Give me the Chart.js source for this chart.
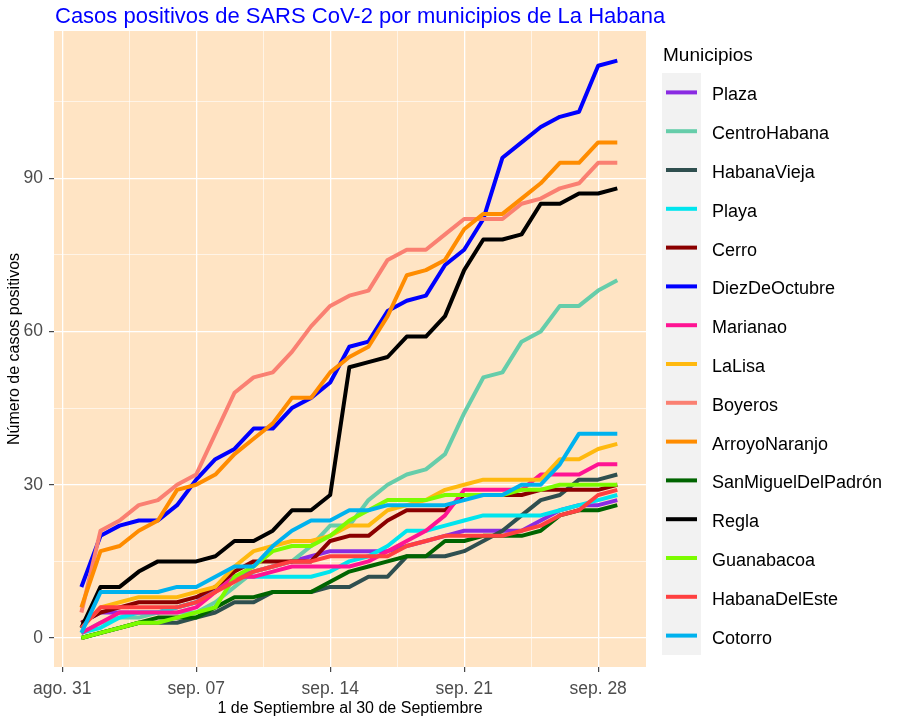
<!DOCTYPE html>
<html>
<head>
<meta charset="utf-8">
<script src="https://cdn.jsdelivr.net/npm/chart.js@4.4.1/dist/chart.umd.min.js"></script>
<style>
html,body{margin:0;padding:0;background:#ffffff;}
#wrap{width:900px;height:720px;position:relative;}
</style>
</head>
<body>
<div id="wrap"><canvas id="c" width="900" height="720"></canvas></div>
<script>
// ---- data (days of September) ----
const days = [1,2,3,4,5,6,7,8,9,10,11,12,13,14,15,16,17,18,19,20,21,22,23,24,25,26,27,28,29];

const Plaza             = [3,5,5,5,5,6,7,10,12,13,14,15,16,17,17,17,17,18,19,20,21,21,21,21,23,25,26,26,27];
const CentroHabana      = [1,3,4,4,5,5,5,7,10,13,14,15,18,22,22,27,30,32,33,36,44,51,52,58,60,65,65,68,70];
const HabanaVieja       = [0,1,2,3,3,3,4,5,7,7,9,9,9,10,10,12,12,16,16,16,17,19,21,24,27,28,31,31,32];
const Playa             = [1,2,4,5,5,6,7,9,12,12,12,12,12,13,15,16,18,21,21,22,23,24,24,24,24,25,26,27,28];
const Cerro             = [3,5,6,7,7,7,8,10,13,15,15,15,15,19,20,20,23,25,25,25,28,28,28,28,29,29,29,29,30];
const DiezDeOctubre     = [10,20,22,23,23,26,31,35,37,41,41,45,47,50,57,58,64,66,67,73,76,82,94,97,100,102,103,112,113];
const Marianao          = [1,3,5,5,5,5,6,9,12,12,13,14,14,14,14,15,17,19,21,24,29,29,29,29,32,32,32,34,34];
const LaLisa            = [2,6,7,8,8,8,9,10,14,17,18,19,19,20,22,22,25,26,27,29,30,31,31,31,31,35,35,37,38];
const Boyeros           = [5,21,23,26,27,30,32,40,48,51,52,56,61,65,67,68,74,76,76,79,82,82,82,85,86,88,89,93,93];
const ArroyoNaranjo     = [6,17,18,21,23,29,30,32,36,39,42,47,47,52,55,57,63,71,72,74,80,83,83,86,89,93,93,97,97];
const SanMiguelDelPadron= [0,1,2,3,4,4,4,6,8,8,9,9,9,11,13,14,15,16,16,19,19,20,20,20,21,24,25,25,26];
const Regla             = [2,10,10,13,15,15,15,16,19,19,21,25,25,28,53,54,55,59,59,63,72,78,78,79,85,85,87,87,88];
const Guanabacoa        = [0,1,2,3,3,4,5,6,12,14,17,18,18,20,23,25,27,27,27,28,28,28,28,29,29,30,30,30,30];
const HabanaDelEste     = [2,6,6,6,6,6,7,9,11,13,14,15,15,16,16,16,16,18,19,20,20,20,20,21,22,24,25,28,29];
const Cotorro           = [1,9,9,9,9,10,10,12,14,14,18,21,23,23,25,25,26,26,26,26,27,28,28,30,30,34,40,40,40];

const seriesNames  = ["Plaza","CentroHabana","HabanaVieja","Playa","Cerro","DiezDeOctubre","Marianao","LaLisa","Boyeros","ArroyoNaranjo","SanMiguelDelPadrón","Regla","Guanabacoa","HabanaDelEste","Cotorro"];
const seriesValues = [Plaza,CentroHabana,HabanaVieja,Playa,Cerro,DiezDeOctubre,Marianao,LaLisa,Boyeros,ArroyoNaranjo,SanMiguelDelPadron,Regla,Guanabacoa,HabanaDelEste,Cotorro];
const seriesColors = ["#8A2BE2","#66CDAA","#2F4F4F","#00E5EE","#8B0000","#0000FF","#FF1493","#FFB90F","#FA8072","#FF8C00","#006400","#000000","#7CFC00","#FF4040","#00B2EE"];

// tick labels (x: days offset from Sept 0 = Aug 31)
const xTickDays   = [0,7,14,21,28];
const xTickLabels = ["ago. 31","sep. 07","sep. 14","sep. 21","sep. 28"];
const xMinorDays  = [3.5,10.5,17.5,24.5];
const yTicks      = [0,30,60,90];
const yMinor      = [15,45,75,105];

const FAM = "'Liberation Sans', Arial, Helvetica, sans-serif";
Chart.defaults.font.family = FAM;

const panelBg = {
  id: 'panelBg',
  beforeDraw(chart) {
    const {ctx, chartArea: a} = chart;
    ctx.save();
    ctx.fillStyle = '#FFE4C4';
    ctx.fillRect(a.left, a.top, a.right - a.left, a.bottom - a.top);
    ctx.restore();
  }
};

const ggTitle = {
  id: 'ggTitle',
  afterDraw(chart, args, o) {
    const ctx = chart.ctx;
    ctx.save();
    ctx.textAlign = 'left';
    ctx.textBaseline = 'middle';
    ctx.fillStyle = o.color;
    ctx.font = o.size + 'px ' + FAM;
    ctx.fillText(o.text, chart.chartArea.left + 1, o.y);
    ctx.restore();
  }
};

const ggLegend = {
  id: 'ggLegend',
  afterDraw(chart, args, o) {
    const ctx = chart.ctx;
    const ds = chart.data.datasets;
    ctx.save();
    ctx.textAlign = 'left';
    ctx.textBaseline = 'middle';
    ctx.fillStyle = '#000000';
    ctx.font = o.titleSize + 'px ' + FAM;
    ctx.fillText(o.title, o.x + 1, o.titleY);
    ctx.fillStyle = '#F2F2F2';
    ctx.fillRect(o.x, o.top, o.keyW, o.rowH * ds.length);
    ds.forEach((d, i) => {
      const cy = o.top + o.rowH * (i + 0.5);
      ctx.strokeStyle = d.borderColor;
      ctx.lineWidth = 4;
      ctx.beginPath();
      ctx.moveTo(o.x + 4, cy);
      ctx.lineTo(o.x + o.keyW - 4, cy);
      ctx.stroke();
      ctx.fillStyle = '#000000';
      ctx.font = o.labelSize + 'px ' + FAM;
      ctx.fillText(d.label, o.x + o.keyW + 11, cy + 3);
    });
    ctx.restore();
  }
};

const isIn = (arr, v) => arr.some(a => Math.abs(a - v) < 1e-6);

new Chart(document.getElementById('c'), {
  type: 'line',
  data: {
    datasets: seriesNames.map((n, i) => ({
      label: n,
      data: days.map((d, j) => ({x: d, y: seriesValues[i][j]})),
      borderColor: seriesColors[i],
      backgroundColor: seriesColors[i],
      borderWidth: 4,
      pointRadius: 0,
      tension: 0,
      fill: false,
      borderJoinStyle: 'round',
      order: seriesNames.length - i
    }))
  },
  options: {
    responsive: false,
    animation: false,
    devicePixelRatio: 1,
    events: [],
    layout: {padding: {left: 0, right: 254, top: 31, bottom: 0}},
    plugins: {
      legend: {display: false},
      tooltip: {enabled: false},
      title: {display: false},
      ggTitle: {text: 'Casos positivos de SARS CoV-2 por municipios de La Habana', color: '#0000FF', size: 22, y: 17},
      ggLegend: {title: 'Municipios', titleSize: 19, labelSize: 18, x: 662, titleY: 56, top: 73, rowH: 38.8, keyW: 39}
    },
    scales: {
      x: {
        type: 'linear',
        min: -0.43,
        max: 30.5,
        afterFit(s) { s.height = 53; },
        afterBuildTicks(s) { s.ticks = xTickDays.concat(xMinorDays).sort((a,b)=>a-b).map(v => ({value: v})); },
        ticks: {
          autoSkip: false, maxRotation: 0, minRotation: 0,
          color: '#4D4D4D', font: {size: 17.5}, padding: 7,
          callback: (v) => { const k = xTickDays.indexOf(v); return k >= 0 ? xTickLabels[k] : ''; }
        },
        grid: {
          color: '#FFFFFF',
          lineWidth: c => (c.tick && isIn(xTickDays, c.tick.value)) ? 1.3 : 0.6,
          tickColor: c => (c.tick && isIn(xTickDays, c.tick.value)) ? '#333333' : 'rgba(0,0,0,0)',
          tickLength: 5, tickWidth: 1.1
        },
        border: {display: false},
        title: {display: true, text: '1 de Septiembre al 30 de Septiembre', color: '#000000', font: {size: 16}, padding: {top: 0, bottom: 2}}
      },
      y: {
        type: 'linear',
        min: -5.67,
        max: 118.8,
        afterFit(s) { s.width = 54; },
        afterBuildTicks(s) { s.ticks = yTicks.concat(yMinor).sort((a,b)=>a-b).map(v => ({value: v})); },
        ticks: {
          autoSkip: false, color: '#4D4D4D', font: {size: 17.5}, padding: 6,
          callback: (v) => isIn(yTicks, v) ? String(v) : ''
        },
        grid: {
          color: '#FFFFFF',
          lineWidth: c => (c.tick && isIn(yTicks, c.tick.value)) ? 1.3 : 0.6,
          tickColor: c => (c.tick && isIn(yTicks, c.tick.value)) ? '#333333' : 'rgba(0,0,0,0)',
          tickLength: 5, tickWidth: 1.1
        },
        border: {display: false},
        title: {display: true, text: 'Número de casos positivos', color: '#000000', font: {size: 16}, padding: {top: 5, bottom: 0}}
      }
    }
  },
  plugins: [panelBg, ggTitle, ggLegend]
});
</script>
</body>
</html>
